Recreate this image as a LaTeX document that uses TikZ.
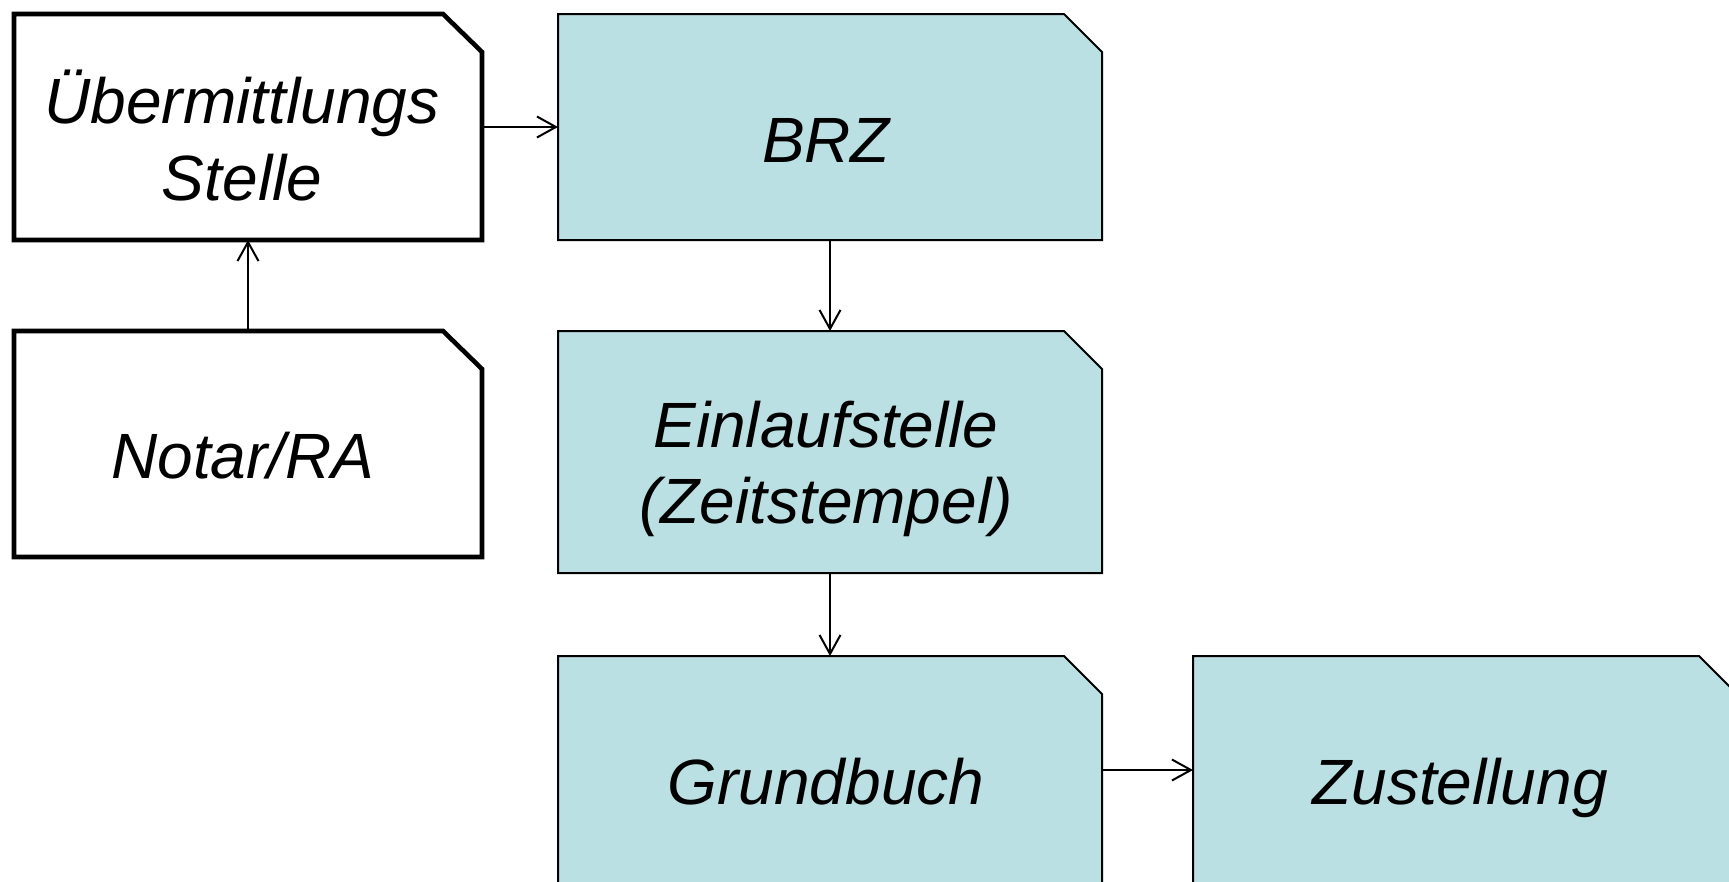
\documentclass[tikz,border=0pt]{standalone}
\usepackage{fontspec}
\setmainfont{Liberation Sans}
\usetikzlibrary{arrows.meta,calc}
\definecolor{boxblue}{HTML}{BBE0E3}
\tikzset{
  area/.style={rectangle, draw=none, inner sep=0pt, outer sep=0pt},
  thickframe/.style={draw=black, fill=white, line width=4.6pt},
  blueframe/.style={draw=black, fill=boxblue, line width=2pt},
  flow/.style={draw=black, line width=2pt, -{Straight Barb[length=19pt,width=21pt,line width=2pt]}},
  label/.style={anchor=base, inner sep=0pt, font=\fontsize{64}{77}\selectfont\itshape},
}
\newcommand{\cutbox}[4]{%
  \path[#2] (#1.south west) -- (#1.north west) -- ([xshift=-#3pt]#1.north east)
    -- ([yshift=-#4pt]#1.north east) -- (#1.south east) -- cycle;}
\begin{document}
\begin{tikzpicture}[x=1pt,y=-1pt]
\useasboundingbox (0,0) rectangle (1729,881);
\fill[white] (0,0) rectangle (1729,881);
\clip (0,0) rectangle (1729,881);
% box areas
\node[area, minimum width=468pt, minimum height=226pt] (b1) at (248,127) {};
\node[area, minimum width=468pt, minimum height=226pt] (b2) at (248,444) {};
\node[area, minimum width=544pt, minimum height=226pt] (brz) at (830,127) {};
\node[area, minimum width=544pt, minimum height=242pt] (ein) at (830,452) {};
\node[area, minimum width=544pt, minimum height=228pt] (gb) at (830,770) {};
\node[area, minimum width=544pt, minimum height=228pt] (zu) at (1465,770) {};
% outlines
\cutbox{b1}{thickframe}{39}{38}
\cutbox{b2}{thickframe}{39}{38}
\cutbox{brz}{blueframe}{38}{38}
\cutbox{ein}{blueframe}{38}{38}
\cutbox{gb}{blueframe}{38}{38}
\cutbox{zu}{blueframe}{38}{38}
% texts
\node[label] (t1a) at (242,123) {Übermittlungs};
\node[label] (t1b) at (242,200) {Stelle};
\node[label] (t2) at (243,478) {Notar/RA};
\node[label] (t3) at (826,162) {BRZ};
\node[label] (t4a) at (826,447) {Einlaufstelle};
\node[label] (t4b) at (826,523) {(Zeitstempel)};
\node[label] (t5) at (826,804) {Grundbuch};
\node[label] (t6) at (1460,804) {Zustellung};
% connectors
\draw[flow] (b1.east) -- (brz.west);
\draw[flow] (b2.north) -- (b1.south);
\draw[flow] (brz.south) -- (ein.north);
\draw[flow] (ein.south) -- (gb.north);
\draw[flow] (gb.east) -- (zu.west);
\end{tikzpicture}
\end{document}
